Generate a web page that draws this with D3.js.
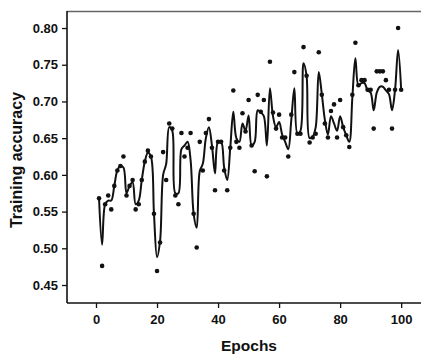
<!DOCTYPE html>
<html><head><meta charset="utf-8">
<script src="https://cdn.jsdelivr.net/npm/d3@7"></script>
<style>body{margin:0;background:#fff}svg{display:block}text{font-family:"Liberation Sans",Arial,sans-serif;font-weight:bold}</style>
</head><body><div id="chart"></div>
<script>
const epochs = d3.range(1, 101);
const accuracyPoints = [
0.568,0.476,0.560,0.572,0.553,0.585,0.606,0.612,0.625,0.572,
0.585,0.593,0.553,0.560,0.593,0.618,0.633,0.625,0.547,0.469,
0.508,0.631,0.593,0.670,0.663,0.572,0.560,0.657,0.625,0.637,
0.657,0.547,0.501,0.645,0.606,0.657,0.676,0.637,0.579,0.645,
0.645,0.606,0.579,0.637,0.715,0.645,0.637,0.684,0.659,0.702,
0.640,0.605,0.709,0.686,0.702,0.598,0.754,0.685,0.663,0.682,
0.651,0.651,0.625,0.682,0.740,0.656,0.656,0.774,0.735,0.644,
0.651,0.656,0.767,0.709,0.670,0.651,0.687,0.696,0.651,0.702,
0.665,0.654,0.638,0.709,0.780,0.722,0.729,0.729,0.716,0.716,
0.663,0.741,0.741,0.741,0.729,0.716,0.663,0.716,0.800,0.716];
const smoothedCurve = [
0.568,0.505,0.560,0.565,0.565,0.585,0.606,0.612,0.610,0.575,
0.585,0.590,0.560,0.565,0.593,0.618,0.630,0.625,0.547,0.488,
0.510,0.600,0.615,0.665,0.660,0.575,0.575,0.635,0.640,0.645,
0.620,0.547,0.528,0.605,0.615,0.650,0.665,0.640,0.602,0.645,
0.645,0.610,0.593,0.637,0.686,0.650,0.645,0.670,0.660,0.681,
0.640,0.645,0.688,0.685,0.680,0.640,0.718,0.680,0.665,0.672,
0.655,0.645,0.635,0.675,0.718,0.656,0.660,0.752,0.735,0.650,
0.652,0.665,0.740,0.710,0.675,0.655,0.680,0.670,0.660,0.680,
0.665,0.654,0.645,0.705,0.759,0.722,0.725,0.725,0.715,0.712,
0.688,0.712,0.720,0.720,0.715,0.710,0.688,0.716,0.770,0.716];
const xTicks = [0,20,40,60,80,100];
const yTicks = [0.45,0.50,0.55,0.60,0.65,0.70,0.75,0.80];

const W = 421, H = 356;
const svg = d3.select("#chart").append("svg").attr("width", W).attr("height", H);
const x = d3.scaleLinear().domain([-9.5, 106.5]).range([67, 421]);
const y = d3.scaleLinear().domain([0.4255, 0.8232]).range([303, 11]);

svg.append("line").attr("x1",67).attr("x2",421).attr("y1",11.5).attr("y2",11.5)
  .attr("stroke","#666").attr("stroke-width",1.5);

const xAxis = svg.append("g").attr("transform","translate(0,303)")
  .call(d3.axisBottom(x).tickValues(xTicks).tickFormat(d3.format("d")).tickSizeOuter(0).tickSize(5).tickPadding(7));
const yAxis = svg.append("g").attr("transform","translate(67,0)")
  .call(d3.axisLeft(y).tickValues(yTicks).tickFormat(d3.format(".2f")).tickSizeOuter(0).tickSize(5).tickPadding(4));
[xAxis,yAxis].forEach(a=>{
  a.select(".domain").attr("stroke","#111").attr("stroke-width",1.6);
  a.selectAll(".tick line").attr("stroke","#111").attr("stroke-width",1.3);
  a.selectAll("text").attr("fill","#111").style("font-weight","bold");
});
xAxis.selectAll("text").style("font-size","13px");
yAxis.selectAll("text").style("font-size","13px");
xAxis.select(".domain").attr("d","M67,0H421");
yAxis.select(".domain").attr("d","M0,11V303");

const line = d3.line().x((d,i)=>x(epochs[i])).y(d=>y(d)).curve(d3.curveCatmullRom.alpha(0.5));
svg.append("path").datum(smoothedCurve).attr("d",line)
  .attr("fill","none").attr("stroke","#111").attr("stroke-width",2);

svg.append("g").selectAll("circle").data(accuracyPoints).join("circle")
  .attr("cx",(d,i)=>x(epochs[i])).attr("cy",d=>y(d)).attr("r",2.3).attr("fill","#111");

svg.append("text").attr("x",249).attr("y",351).attr("text-anchor","middle")
  .style("font-size","15.5px").attr("fill","#111").text("Epochs");
svg.append("text").attr("transform","translate(22,160) rotate(-90)").attr("text-anchor","middle")
  .style("font-size","16px").attr("fill","#111").text("Training accuracy");
</script></body></html>
